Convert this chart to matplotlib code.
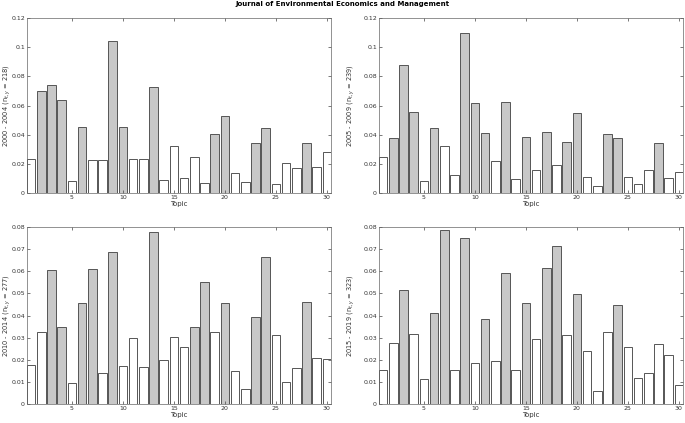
import numpy as np
import matplotlib.pyplot as plt

# Topic shares per period (30 topics)
topics = np.arange(1, 31)

share_2000_2004 = [0.023, 0.070, 0.074, 0.064, 0.0085, 0.045, 0.0225, 0.0225, 0.104, 0.0455,
                   0.023, 0.0235, 0.073, 0.009, 0.0325, 0.0105, 0.025, 0.007, 0.0405, 0.053,
                   0.0135, 0.0075, 0.0345, 0.0445, 0.0065, 0.0205, 0.017, 0.0345, 0.018, 0.028]
share_2005_2009 = [0.025, 0.038, 0.0875, 0.0555, 0.0085, 0.0445, 0.032, 0.0125, 0.1095, 0.062,
                   0.041, 0.022, 0.0625, 0.0095, 0.0385, 0.0155, 0.0415, 0.019, 0.035, 0.055,
                   0.011, 0.005, 0.0405, 0.0375, 0.011, 0.0065, 0.016, 0.0345, 0.010, 0.0145]
share_2010_2014 = [0.0175, 0.0328, 0.0607, 0.035, 0.0093, 0.0455, 0.061, 0.014, 0.069, 0.0172,
                   0.0298, 0.0167, 0.078, 0.020, 0.0302, 0.026, 0.035, 0.055, 0.0328, 0.0455,
                   0.0148, 0.0068, 0.0395, 0.0665, 0.031, 0.0098, 0.0162, 0.046, 0.021, 0.0205]
share_2015_2019 = [0.0155, 0.0278, 0.0515, 0.0315, 0.0113, 0.041, 0.0787, 0.0155, 0.075, 0.0185,
                   0.0383, 0.0195, 0.0595, 0.0155, 0.0455, 0.0295, 0.0615, 0.0717, 0.031, 0.0497,
                   0.024, 0.0058, 0.0325, 0.045, 0.0257, 0.0118, 0.014, 0.0272, 0.022, 0.0085]

periods = ['2000 - 2004', '2005 - 2009', '2010 - 2014', '2015 - 2019']
n_docs = [218, 239, 277, 323]
shares = [share_2000_2004, share_2005_2009, share_2010_2014, share_2015_2019]
ymax = [0.12, 0.12, 0.08, 0.08]
ystep = [0.02, 0.02, 0.01, 0.01]

fig = plt.figure(figsize=(6.85, 4.23), dpi=100)
fig.text(0.5, 0.997, 'Journal of Environmental Economics and Management',
         ha='center', va='top', fontsize=5, fontweight='bold')

positions = [
    [0.0394, 0.5437, 0.4438, 0.4137],
    [0.5533, 0.5437, 0.4438, 0.4137],
    [0.0394, 0.0449, 0.4438, 0.4180],
    [0.5533, 0.0449, 0.4438, 0.4180],
]
label_x = [-0.047, -0.072, -0.047, -0.072]

for i in range(4):
    ax = fig.add_axes(positions[i])
    vals = np.array(shares[i])
    # topics above the uniform share 1/30 are shaded
    colors = ['#c8c8c8' if v > 1 / 30 else 'white' for v in vals]
    ax.bar(topics, vals, width=0.85, color=colors, edgecolor='#555555', linewidth=0.7)
    ax.set_xlim(0.6, 30.4)
    ax.set_ylim(0, ymax[i])
    ax.set_xticks([5, 10, 15, 20, 25, 30])
    yt = np.arange(0, ymax[i] + 1e-9, ystep[i])
    ax.set_yticks(yt)
    ax.set_yticklabels(['0'] + ['%g' % round(v, 3) for v in yt[1:]])
    ax.tick_params(direction='in', top=True, right=True, labelsize=4.5,
                   length=2.5, width=0.5, colors='#444444', labelcolor='#333333', pad=1.5)
    for s in ax.spines.values():
        s.set_color('#666666')
        s.set_linewidth(0.5)
    ax.set_xlabel('Topic', fontsize=5, color='#333333', labelpad=1)
    ax.set_ylabel('%s (n$_{t,y}$ = %d)' % (periods[i], n_docs[i]),
                  fontsize=4.8, color='#333333')
    ax.yaxis.set_label_coords(label_x[i], 0.5)

plt.savefig('out.png', dpi=100)
